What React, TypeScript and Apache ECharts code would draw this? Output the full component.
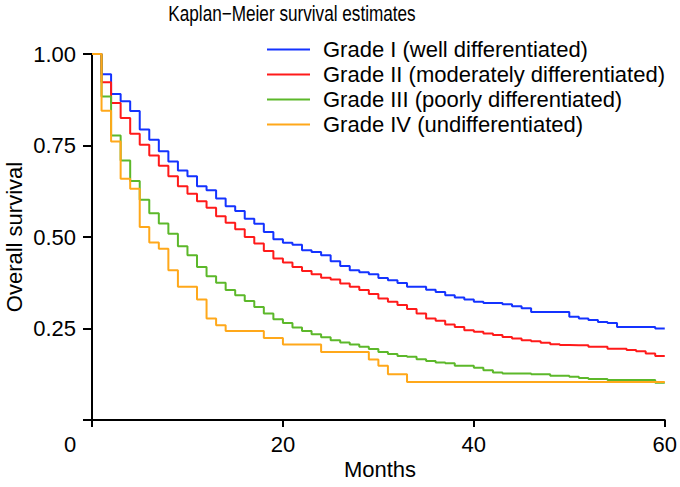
import React, { useEffect, useRef } from "react";
import * as echarts from "echarts";

const months: number[] = Array.from({ length: 61 }, (_, i) => i);

const gradeI: number[] = [
  1.0, 0.945, 0.891, 0.871, 0.844, 0.794, 0.766, 0.734, 0.706, 0.682,
  0.666, 0.639, 0.628, 0.605, 0.584, 0.571, 0.55, 0.536, 0.514, 0.494,
  0.484, 0.479, 0.464, 0.459, 0.45, 0.434, 0.421, 0.409, 0.404, 0.398,
  0.388, 0.382, 0.374, 0.364, 0.364, 0.356, 0.35, 0.341, 0.335, 0.329,
  0.323, 0.32, 0.32, 0.316, 0.311, 0.305, 0.295, 0.295, 0.295, 0.295,
  0.282, 0.277, 0.273, 0.268, 0.265, 0.254, 0.254, 0.254, 0.254, 0.25,
  0.25,
];

const gradeII: number[] = [
  1.0, 0.923, 0.866, 0.825, 0.782, 0.752, 0.723, 0.695, 0.666, 0.639,
  0.618, 0.598, 0.58, 0.557, 0.539, 0.521, 0.5, 0.482, 0.462, 0.441,
  0.43, 0.418, 0.407, 0.398, 0.389, 0.384, 0.373, 0.364, 0.355, 0.344,
  0.332, 0.323, 0.314, 0.303, 0.291, 0.277, 0.271, 0.261, 0.254, 0.245,
  0.241, 0.236, 0.232, 0.227, 0.223, 0.218, 0.215, 0.211, 0.207, 0.205,
  0.204, 0.204, 0.2, 0.2, 0.195, 0.195, 0.191, 0.188, 0.182, 0.175,
  0.175,
];

const gradeIII: number[] = [
  1.0, 0.884, 0.777, 0.709, 0.653, 0.602, 0.565, 0.537, 0.509, 0.475,
  0.45, 0.418, 0.393, 0.375, 0.355, 0.341, 0.325, 0.309, 0.291, 0.275,
  0.265, 0.253, 0.243, 0.234, 0.226, 0.218, 0.212, 0.206, 0.2, 0.194,
  0.186, 0.18, 0.175, 0.173, 0.166, 0.161, 0.157, 0.155, 0.148, 0.148,
  0.143, 0.136, 0.13, 0.127, 0.127, 0.127, 0.125, 0.125, 0.121, 0.121,
  0.118, 0.115, 0.112, 0.112, 0.109, 0.109, 0.109, 0.109, 0.109, 0.102,
  0.102,
];

const gradeIV: number[] = [
  1.0, 0.845, 0.761, 0.659, 0.632, 0.527, 0.485, 0.468, 0.409, 0.364,
  0.364, 0.329, 0.277, 0.259, 0.243, 0.243, 0.243, 0.243, 0.224, 0.224,
  0.206, 0.206, 0.206, 0.206, 0.186, 0.186, 0.186, 0.186, 0.186, 0.165,
  0.148, 0.125, 0.125, 0.104, 0.104, 0.104, 0.104, 0.104, 0.104, 0.104,
  0.104, 0.104, 0.104, 0.104, 0.104, 0.104, 0.104, 0.104, 0.104, 0.104,
  0.104, 0.104, 0.104, 0.104, 0.104, 0.104, 0.104, 0.104, 0.104, 0.104,
  0.104,
];

const seriesNames: string[] = [
  "Grade I (well differentiated)",
  "Grade II (moderately differentiated)",
  "Grade III (poorly differentiated)",
  "Grade IV (undifferentiated)",
];
const seriesColors: string[] = ["#1433ff", "#ff1a1a", "#5cb82a", "#ffa81a"];
const xTicks: number[] = [0, 20, 40, 60];

const FONT = "'Liberation Sans', Arial, Helvetica, sans-serif";

export default function App() {
  const ref = useRef<HTMLDivElement>(null);
  useEffect(() => {
    if (!ref.current) return;
    document.body.style.margin = "0";
    document.body.style.overflow = "hidden";
    const chart = echarts.init(ref.current, null, { renderer: "svg" });
    const all = [gradeI, gradeII, gradeIII, gradeIV];
    chart.setOption({
      animation: false,
      backgroundColor: "#ffffff",
      textStyle: { fontFamily: FONT },
      grid: { left: 92, right: 13, top: 54, bottom: 67, containLabel: false },
      legend: {
        orient: "vertical",
        left: 267,
        top: 37,
        padding: 0,
        itemWidth: 43,
        itemHeight: 2,
        itemGap: 0,
        icon: "rect",
        data: seriesNames,
        textStyle: {
          fontFamily: FONT,
          fontSize: 22,
          color: "#000",
          lineHeight: 25,
          padding: [0, 0, 0, 8],
        },
      },
      xAxis: {
        type: "value",
        min: 0,
        max: 60,
        interval: 20,
        splitLine: { show: false },
        axisLine: { show: true, onZero: false, lineStyle: { color: "#000", width: 2 } },
        axisTick: { show: true, length: 7, lineStyle: { color: "#000", width: 2 } },
        axisLabel: {
          color: "#000",
          fontSize: 22,
          fontFamily: FONT,
          margin: 13,
          formatter: (v: number) => (v === 0 ? "" : String(v)),
        },
      },
      yAxis: {
        type: "value",
        min: 0,
        max: 1,
        interval: 0.25,
        splitLine: { show: false },
        axisLine: { show: true, onZero: false, lineStyle: { color: "#000", width: 2 } },
        axisTick: { show: true, length: 9, lineStyle: { color: "#000", width: 2 } },
        axisLabel: {
          color: "#000",
          fontSize: 22,
          fontFamily: FONT,
          margin: 16,
          formatter: (v: number) => (v === 0 ? "" : v.toFixed(2)),
        },
      },
      graphic: [
        {
          type: "text",
          x: 292,
          y: 13,
          scaleX: 0.78,
          style: {
            text: "Kaplan\u2212Meier survival estimates",
            fontFamily: FONT,
            fontSize: 22,
            fill: "#000",
            textAlign: "center",
            textVerticalAlign: "middle",
          },
        },
        {
          type: "text",
          x: 380,
          y: 469,
          style: {
            text: "Months",
            fontFamily: FONT,
            fontSize: 22,
            fill: "#000",
            textAlign: "center",
            textVerticalAlign: "middle",
          },
        },
        {
          type: "text",
          x: 14,
          y: 237,
          rotation: Math.PI / 2,
          style: {
            text: "Overall survival",
            fontFamily: FONT,
            fontSize: 22,
            fill: "#000",
            textAlign: "center",
            textVerticalAlign: "middle",
          },
        },
        {
          type: "text",
          x: 70,
          y: 444,
          style: {
            text: String(xTicks[0]),
            fontFamily: FONT,
            fontSize: 22,
            fill: "#000",
            textAlign: "center",
            textVerticalAlign: "middle",
          },
        },
      ],
      series: all.map((vals, i) => ({
        name: seriesNames[i],
        type: "line",
        step: "end",
        showSymbol: false,
        symbol: "none",
        color: seriesColors[i],
        lineStyle: { color: seriesColors[i], width: 2 },
        data: months.map((m, j) => [m, vals[j]]),
      })),
    });
    return () => chart.dispose();
  }, []);
  return (
    <div
      ref={ref}
      style={{ position: "fixed", left: 0, top: 0, width: 680, height: 487 }}
    />
  );
}
